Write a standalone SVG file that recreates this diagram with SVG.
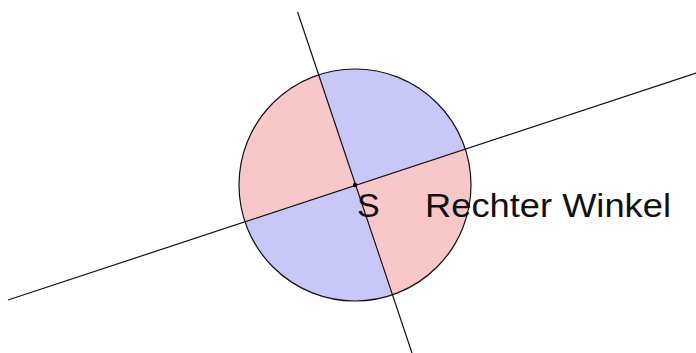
<svg xmlns="http://www.w3.org/2000/svg" width="696" height="353" viewBox="0 0 696 353">
<style>
.blue{fill:#c8c8f8;stroke:none}
.pink{fill:#f8c8c8;stroke:none}
.ln{stroke:#111;stroke-width:1.2;fill:none}
.lbl{font-family:"Liberation Sans",Arial,sans-serif;font-size:34px;fill:#111}
</style>
<rect width="696" height="353" fill="#fff"/>
<g id="circle">
<path class="blue" d="M355,185 L318.7,74.8 A116,116 0 0 1 465.2,148.7 Z"/>
<path class="pink" d="M355,185 L465.2,148.7 A116,116 0 0 1 391.3,295.2 Z"/>
<path class="blue" d="M355,185 L391.3,295.2 A116,116 0 0 1 244.8,221.3 Z"/>
<path class="pink" d="M355,185 L244.8,221.3 A116,116 0 0 1 318.7,74.8 Z"/>
<circle cx="355" cy="185" r="116" class="ln"/>
</g>
<g id="lines">
<line class="ln" x1="297.6" y1="12" x2="412" y2="353"/>
<line class="ln" x1="8" y1="300" x2="696" y2="73"/>
</g>
<g id="S">
<circle cx="355" cy="185" r="2.2" fill="#000"/>
<text class="lbl" x="357" y="217">S</text>
</g>
<g id="label">
<text class="lbl" x="425" y="217" textLength="246" lengthAdjust="spacingAndGlyphs">Rechter Winkel</text>
</g>
</svg>
